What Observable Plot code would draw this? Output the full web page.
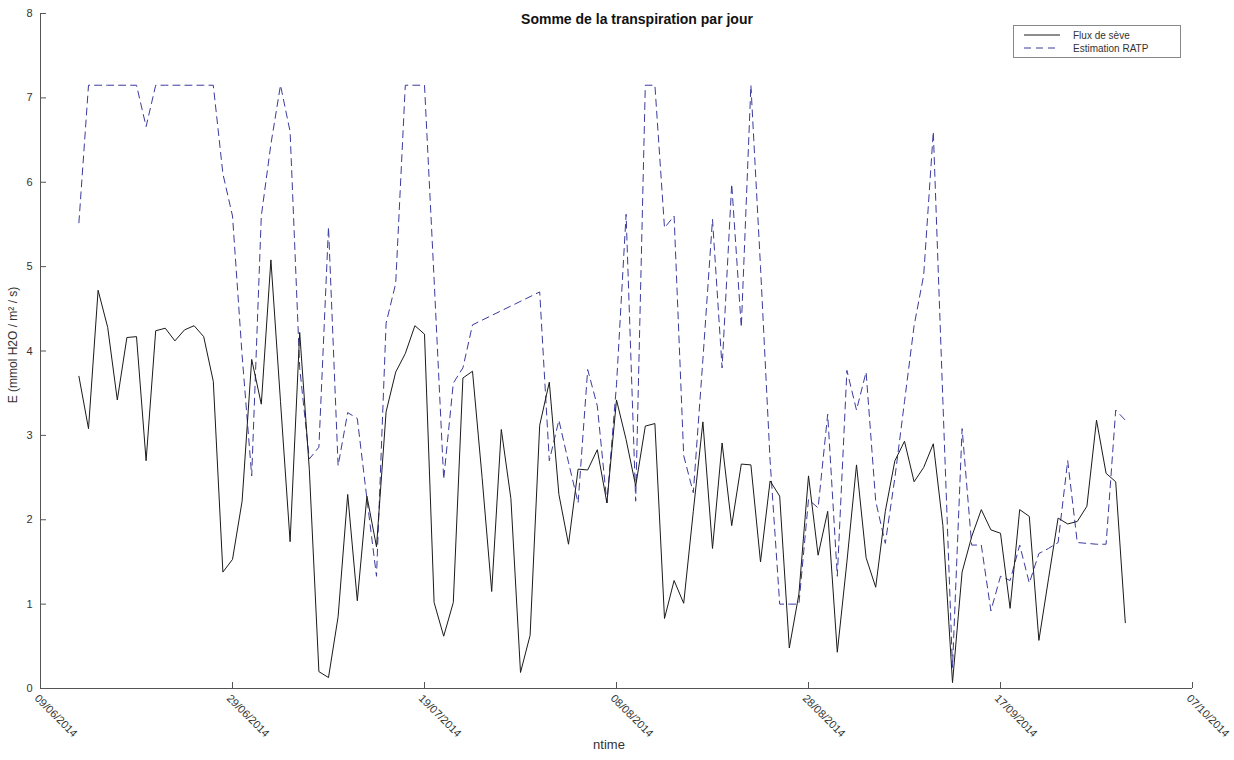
<!DOCTYPE html>
<html>
<head>
<meta charset="utf-8">
<script src="https://cdn.jsdelivr.net/npm/d3@7"></script>
<script src="https://cdn.jsdelivr.net/npm/@observablehq/plot@0.6"></script>
<style>
  body { margin: 0; background: #fff; font-family: "Liberation Sans", Arial, sans-serif; }
  #wrap { position: relative; width: 1234px; height: 760px; overflow: hidden; }
  #title { position: absolute; top: 11px; left: 637px; transform: translateX(-50%); font-weight: bold; font-size: 14px; color: #111; white-space: nowrap; }
  #xlabel { position: absolute; top: 737px; left: 609px; transform: translateX(-50%); font-size: 13px; color: #333; }
  #ylabel { position: absolute; left: 13px; top: 345px; transform: translate(-50%, -50%) rotate(-90deg); font-size: 12px; color: #333; white-space: nowrap; }
  #legend { position: absolute; left: 1013px; top: 25px; width: 166px; height: 31px; border: 1px solid #888; background: #fff; font-size: 10px; color: #333; }
  #legend .row { position: absolute; left: 10px; height: 12px; display: flex; align-items: center; }
  #legend svg { margin-right: 13px; }
</style>
</head>
<body>
<div id="wrap">
  <div id="chart"></div>
  <div id="title">Somme de la transpiration par jour</div>
  <div id="xlabel">ntime</div>
  <div id="ylabel">E (mmol H2O / m² / s)</div>
  <div id="legend">
    <div class="row" style="top:3px"><svg width="36" height="4"><line x1="0" y1="2" x2="36" y2="2" stroke="#1a1a1a" stroke-width="1"/></svg>Flux de sève</div>
    <div class="row" style="top:16px"><svg width="36" height="4"><line x1="0" y1="2" x2="36" y2="2" stroke="#3a3a9e" stroke-width="1" stroke-dasharray="7,5"/></svg>Estimation RATP</div>
  </div>
</div>
<script>
// First day of the x axis and first day with data
const axisStart = "2014-06-09";
const axisEnd = "2014-10-07";
const firstDataDay = "2014-06-13";

// Daily values from 13/06/2014 to 30/09/2014
const fluxSeve = [
  3.70, 3.08, 4.72, 4.28, 3.42, 4.16, 4.17, 2.70, 4.24, 4.27,
  4.12, 4.25, 4.30, 4.17, 3.64, 1.38, 1.53, 2.22, 3.90, 3.37,
  5.08, 3.40, 1.74, 4.22, 2.60, 0.20, 0.13, 0.85, 2.30, 1.04,
  2.28, 1.68, 3.28, 3.75, 3.97, 4.30, 4.20, 1.02, 0.62, 1.02,
  3.68, 3.76, 2.50, 1.15, 3.07, 2.25, 0.19, 0.63, 3.12, 3.63,
  2.30, 1.71, 2.60, 2.59, 2.83, 2.20, 3.42, 2.95, 2.40, 3.11,
  3.14, 0.83, 1.28, 1.01, 2.10, 3.16, 1.66, 2.91, 1.93, 2.66,
  2.65, 1.50, 2.46, 2.28, 0.48, 1.12, 2.52, 1.58, 2.10, 0.43,
  1.50, 2.65, 1.55, 1.20, 2.10, 2.70, 2.93, 2.45, 2.62, 2.90,
  1.93, 0.07, 1.38, 1.80, 2.12, 1.88, 1.84, 0.95, 2.12, 2.04,
  0.57, 1.30, 2.02, 1.95, 1.98, 2.16, 3.18, 2.55, 2.45, 0.78
];
// null = no estimate that day (line joins across the gap)
const estimationRATP = [
  5.52, 7.15, 7.15, 7.15, 7.15, 7.15, 7.15, 6.66, 7.15, 7.15,
  7.15, 7.15, 7.15, 7.15, 7.15, 6.10, 5.60, 3.95, 2.52, 5.60,
  6.45, 7.15, 6.60, 3.80, 2.72, 2.86, 5.47, 2.64, 3.27, 3.20,
  2.25, 1.33, 4.33, 4.80, 7.15, 7.15, 7.15, 4.85, 2.48, 3.62,
  3.80, 4.31, null, null, null, null, null, null, 4.70, 2.70,
  3.18, 2.68, 2.20, 3.78, 3.35, 2.20, 3.60, 5.62, 2.22, 7.15,
  7.15, 5.46, 5.60, 2.76, 2.32, 3.90, 5.56, 3.80, 5.98, 4.28,
  7.15, 5.00, 2.70, 1.00, 1.00, 1.00, 2.24, 2.14, 3.25, 1.33,
  3.77, 3.30, 3.75, 2.22, 1.72, 2.50, 3.40, 4.30, 4.90, 6.60,
  3.40, 0.25, 3.08, 1.70, 1.70, 0.92, 1.33, 1.28, 1.70, 1.25,
  1.60, 1.66, 1.73, 2.70, 1.73, 1.72, 1.71, 1.71, 3.30, 3.18
];
const xTickLabels = ["09/06/2014", "29/06/2014", "19/07/2014", "08/08/2014", "28/08/2014", "17/09/2014", "07/10/2014"];
const yTicks = [0, 1, 2, 3, 4, 5, 6, 7, 8];

const parseFR = d3.utcParse("%d/%m/%Y");
const fmtFR = d3.utcFormat("%d/%m/%Y");
const xTicks = xTickLabels.map(parseFR);
const t0 = new Date(firstDataDay + "T00:00:00Z");
const dayAt = i => d3.utcDay.offset(t0, i);
const fluxData = fluxSeve.map((v, i) => ({date: dayAt(i), value: v}));
const ratpData = estimationRATP.map((v, i) => ({date: dayAt(i), value: v})).filter(d => d.value != null);

const chart = Plot.plot({
  width: 1234,
  height: 760,
  marginLeft: 40,
  marginRight: 42,
  marginTop: 13,
  marginBottom: 72,
  style: {fontFamily: "'Liberation Sans', Arial, sans-serif", fontSize: "11px", color: "#333", background: "white", overflow: "visible"},
  x: {
    type: "utc",
    domain: [new Date(axisStart + "T00:00:00Z"), new Date(axisEnd + "T00:00:00Z")],
    label: null
  },
  y: {domain: [0, 8], label: null},
  marks: [
    Plot.ruleY([0], {stroke: "#555"}),
    Plot.ruleX([new Date(axisStart + "T00:00:00Z")], {stroke: "#555"}),
    // inward tick marks
    Plot.axisX({ticks: xTicks, tickSize: -6, tickFormat: () => "", stroke: "#555", label: null}),
    Plot.axisY({ticks: yTicks, tickSize: -6, tickFormat: () => "", stroke: "#555", label: null}),
    // tick labels
    Plot.axisX({ticks: xTicks, tickSize: 0, tickPadding: 8, tickRotate: 45, dx: -4, tickFormat: fmtFR, fill: "#333", label: null}),
    Plot.axisY({ticks: yTicks, tickSize: 0, tickPadding: 8, tickFormat: d => String(d), fill: "#333", label: null}),
    Plot.line(ratpData, {x: "date", y: "value", stroke: "#3a3a9e", strokeWidth: 1, strokeDasharray: "7,5"}),
    Plot.line(fluxData, {x: "date", y: "value", stroke: "#1a1a1a", strokeWidth: 1})
  ]
});
document.getElementById("chart").appendChild(chart);
</script>
</body>
</html>
